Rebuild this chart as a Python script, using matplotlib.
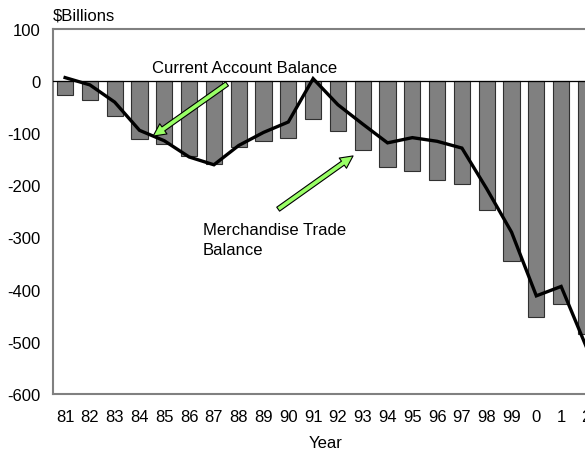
import matplotlib
matplotlib.use("Agg")
import matplotlib.pyplot as plt
import numpy as np

plt.rcParams['font.family'] = ['Liberation Sans', 'DejaVu Sans']

years = ["81", "82", "83", "84", "85", "86", "87", "88", "89", "90", "91",
         "92", "93", "94", "95", "96", "97", "98", "99", "0", "1", "2"]
merchandise_trade = [-28, -36, -67, -111, -122, -145, -159, -126, -116, -109, -73,
                     -96, -132, -166, -173, -191, -198, -247, -346, -452, -428, -486]
current_account = [6, -8, -41, -95, -115, -146, -161, -124, -99, -79, 4,
                   -46, -83, -119, -109, -116, -129, -207, -290, -412, -394, -508]
yticks = [100, 0, -100, -200, -300, -400, -500, -600]

fig = plt.figure(figsize=(5.85, 4.52), dpi=100)
ax = fig.add_axes([0.0901, 0.1261, 0.9327, 0.8086])

x = np.arange(len(years))
ax.bar(x, merchandise_trade, width=0.65, color='#808080', edgecolor='#303030',
       linewidth=0.8, zorder=2)
ax.axhline(0, color='black', linewidth=0.9, zorder=3)
ax.plot(x, current_account, color='black', linewidth=2.4, zorder=4,
        solid_joinstyle='miter')

ax.set_xlim(-0.5, len(years) - 0.5)
ax.set_ylim(-600, 100)
ax.set_yticks(yticks)
ax.set_yticklabels([str(v) for v in yticks])
ax.set_xticks(x)
ax.set_xticklabels(years)
ax.tick_params(axis='both', length=0, labelsize=12)
ax.tick_params(axis='y', pad=9)
ax.tick_params(axis='x', pad=11)

for side in ['left', 'bottom', 'top']:
    ax.spines[side].set_color('#808080')
    ax.spines[side].set_linewidth(1.5)
ax.spines['right'].set_visible(False)

ax.set_xlabel('Year', fontsize=12, va='center')
ax.xaxis.set_label_coords(0.5, -0.134)
ax.text(0.0, 1.037, '$Billions', transform=ax.transAxes, fontsize=12,
        ha='left', va='center')

arrow_style = "simple,head_length=0.9,head_width=0.9,tail_width=0.35"
ax.annotate('', xy=(3.55, -106), xytext=(6.53, -6),
            arrowprops=dict(arrowstyle=arrow_style, fc='#99ff66', ec='black',
                            lw=0.8, shrinkA=0, shrinkB=0), zorder=5)
ax.annotate('', xy=(11.61, -144), xytext=(8.59, -246),
            arrowprops=dict(arrowstyle=arrow_style, fc='#99ff66', ec='black',
                            lw=0.8, shrinkA=0, shrinkB=0), zorder=5)

ax.text(3.51, 25, 'Current Account Balance', fontsize=12, ha='left', va='center')
ax.text(5.56, -304, 'Merchandise Trade\nBalance', fontsize=12, ha='left',
        va='center', linespacing=1.4)

fig.savefig('out.png', dpi=100)
